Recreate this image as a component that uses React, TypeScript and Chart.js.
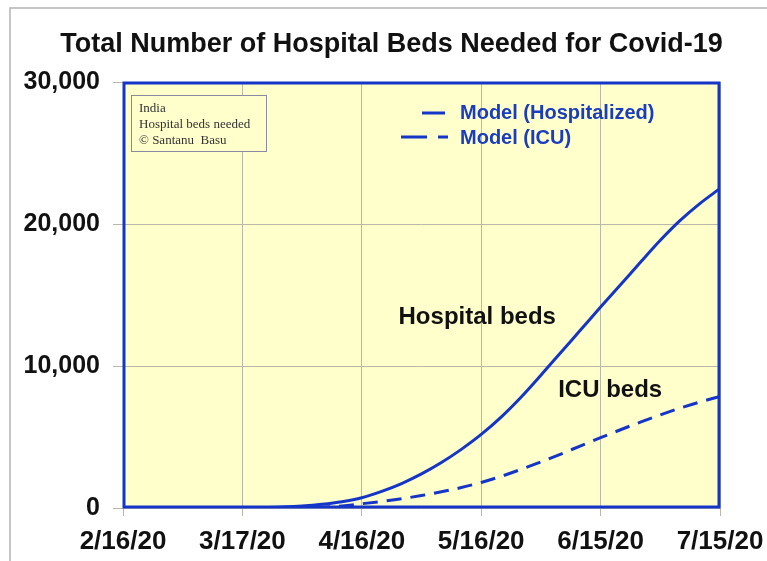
import { useEffect, useRef } from "react";
import { Chart, registerables } from "chart.js";

Chart.register(...registerables);

// ---- data (days since 2/16/20) ----
const DAYS = [0, 10, 20, 30, 35, 40, 45, 50, 55, 60, 65, 70, 75, 80, 85, 90, 95, 100, 105, 110, 115, 120, 125, 130, 135, 140, 145, 150];
const HOSPITALIZED = [0, 0, 0, 10, 30, 70, 140, 260, 440, 720, 1170, 1720, 2400, 3200, 4130, 5180, 6400, 7800, 9350, 10950, 12550, 14150, 15720, 17300, 18850, 20250, 21450, 22500];
const ICU = [0, 0, 0, 0, 0, 0, 10, 50, 150, 300, 460, 650, 880, 1140, 1440, 1800, 2230, 2720, 3250, 3800, 4380, 4950, 5510, 6050, 6560, 7040, 7470, 7850];
const X_TICK_LABELS = ["2/16/20", "3/17/20", "4/16/20", "5/16/20", "6/15/20", "7/15/20"];
const X_STEP = 30;
const Y_MAX = 30000;
const Y_STEP = 10000;

const TITLE = "Total Number of Hospital Beds Needed for Covid-19";
const INFO_LINES = ["India", "Hospital beds needed", "\u00A9 Santanu  Basu"];
const LEGEND_LABELS = ["Model (Hospitalized)", "Model (ICU)"];
const LABEL_HOSPITAL = "Hospital beds";
const LABEL_ICU = "ICU beds";
// annotation anchors in data units [day, value]
const LABEL_HOSPITAL_AT = [89, 13400];
const LABEL_ICU_AT = [122.4, 8300];

const BLUE = "#1535C8";
const LEGEND_BLUE = "#1a3cc0";
const PLOT_BG = "#FFFFCC";
const GRID = "#b9b9aa";
const SANS = '"Liberation Sans", Arial, sans-serif';
const SERIF = '"Liberation Serif", "Times New Roman", serif';

function fmt(n: number): string {
  return String(n).replace(/\B(?=(\d{3})+(?!\d))/g, ",");
}

const decorPlugin = {
  id: "decor",
  beforeDraw(chart: any) {
    const { ctx, chartArea } = chart;
    const { left, top, right, bottom } = chartArea;
    ctx.save();
    ctx.fillStyle = "#ffffff";
    ctx.fillRect(0, 0, chart.width, chart.height);
    // page frame
    ctx.strokeStyle = "#b4b4b4";
    ctx.lineWidth = 1.5;
    ctx.beginPath();
    ctx.moveTo(10, chart.height);
    ctx.lineTo(10, 8);
    ctx.lineTo(chart.width, 8);
    ctx.stroke();
    // plot background
    ctx.fillStyle = PLOT_BG;
    ctx.fillRect(left, top, right - left, bottom - top);
    ctx.restore();
  },
  afterDatasetsDraw(chart: any) {
    const { ctx, chartArea, scales } = chart;
    const { left, top, right, bottom } = chartArea;
    ctx.save();

    // plot border
    ctx.strokeStyle = BLUE;
    ctx.lineWidth = 3;
    ctx.setLineDash([]);
    ctx.strokeRect(left + 1, top + 1, right - left - 2, bottom - top - 2);

    // title
    ctx.fillStyle = "#111";
    ctx.font = `bold 27px ${SANS}`;
    ctx.textAlign = "center";
    ctx.textBaseline = "middle";
    ctx.fillText(TITLE, chart.width / 2 + 8, top - 37);

    // info box
    const bx = left + 8;
    const by = top + 13;
    ctx.fillStyle = PLOT_BG;
    ctx.fillRect(bx, by, 135, 56);
    ctx.strokeStyle = "#8a8aa2";
    ctx.lineWidth = 1;
    ctx.strokeRect(bx + 0.5, by + 0.5, 135, 56);
    ctx.fillStyle = "#333";
    ctx.font = `13px ${SERIF}`;
    ctx.textAlign = "left";
    ctx.textBaseline = "alphabetic";
    INFO_LINES.forEach((t, i) => ctx.fillText(t, bx + 8, by + 17 + i * 16));

    // legend
    const lx = right - 260;
    ctx.strokeStyle = BLUE;
    ctx.lineWidth = 3;
    ctx.beginPath();
    ctx.moveTo(lx - 38, top + 31);
    ctx.lineTo(lx - 15, top + 31);
    ctx.stroke();
    ctx.setLineDash([26, 11]);
    ctx.beginPath();
    ctx.moveTo(lx - 59, top + 55);
    ctx.lineTo(lx - 12, top + 55);
    ctx.stroke();
    ctx.setLineDash([]);
    ctx.fillStyle = LEGEND_BLUE;
    ctx.font = `bold 20px ${SANS}`;
    ctx.textBaseline = "middle";
    ctx.fillText(LEGEND_LABELS[0], lx, top + 31);
    ctx.fillText(LEGEND_LABELS[1], lx, top + 56);

    // curve labels
    ctx.fillStyle = "#111";
    ctx.font = `bold 24px ${SANS}`;
    ctx.textAlign = "center";
    ctx.fillText(
      LABEL_HOSPITAL,
      scales.x.getPixelForValue(LABEL_HOSPITAL_AT[0]),
      scales.y.getPixelForValue(LABEL_HOSPITAL_AT[1])
    );
    ctx.fillText(
      LABEL_ICU,
      scales.x.getPixelForValue(LABEL_ICU_AT[0]),
      scales.y.getPixelForValue(LABEL_ICU_AT[1])
    );
    ctx.restore();
  },
};

export default function App() {
  const ref = useRef<HTMLCanvasElement | null>(null);

  useEffect(() => {
    document.body.style.margin = "0";
    if (!ref.current) return;
    const chart = new Chart(ref.current, {
      type: "line",
      data: {
        datasets: [
          {
            label: LEGEND_LABELS[0],
            data: DAYS.map((d, i) => ({ x: d, y: HOSPITALIZED[i] })),
            borderColor: BLUE,
            borderWidth: 3,
            pointRadius: 0,
            cubicInterpolationMode: "monotone",
            fill: false,
          },
          {
            label: LEGEND_LABELS[1],
            data: DAYS.map((d, i) => ({ x: d, y: ICU[i] })),
            borderColor: BLUE,
            borderWidth: 3,
            borderDash: [15, 9],
            pointRadius: 0,
            cubicInterpolationMode: "monotone",
            fill: false,
          },
        ],
      },
      options: {
        animation: false,
        responsive: true,
        maintainAspectRatio: false,
        layout: { padding: { left: 0, top: 82, right: 47, bottom: 0 } },
        plugins: {
          legend: { display: false },
          title: { display: false },
          tooltip: { enabled: false },
        },
        scales: {
          x: {
            type: "linear",
            min: 0,
            max: (X_TICK_LABELS.length - 1) * X_STEP,
            afterFit: (s: any) => {
              s.height = 53;
              s.paddingLeft = 0;
              s.paddingRight = 0;
            },
            grid: { color: GRID, lineWidth: 1, tickLength: 8, tickColor: GRID },
            border: { display: false },
            ticks: {
              stepSize: X_STEP,
              autoSkip: false,
              maxRotation: 0,
              padding: 10,
              color: "#111",
              font: { family: SANS, size: 26, weight: "bold" },
              callback: (v: any) => X_TICK_LABELS[Math.round(Number(v) / X_STEP)] ?? "",
            },
          },
          y: {
            min: 0,
            max: Y_MAX,
            afterFit: (s: any) => {
              s.width = 123;
              s.paddingTop = 0;
              s.paddingBottom = 0;
            },
            grid: { color: GRID, lineWidth: 1, tickLength: 10, tickColor: GRID },
            border: { display: false },
            ticks: {
              stepSize: Y_STEP,
              padding: 13,
              color: "#111",
              font: { family: SANS, size: 25, weight: "bold" },
              callback: (v: any) => fmt(Number(v)),
            },
          },
        },
      },
      plugins: [decorPlugin],
    });
    return () => chart.destroy();
  }, []);

  return (
    <div style={{ width: 767, height: 561, position: "relative" }}>
      <canvas ref={ref} />
    </div>
  );
}
